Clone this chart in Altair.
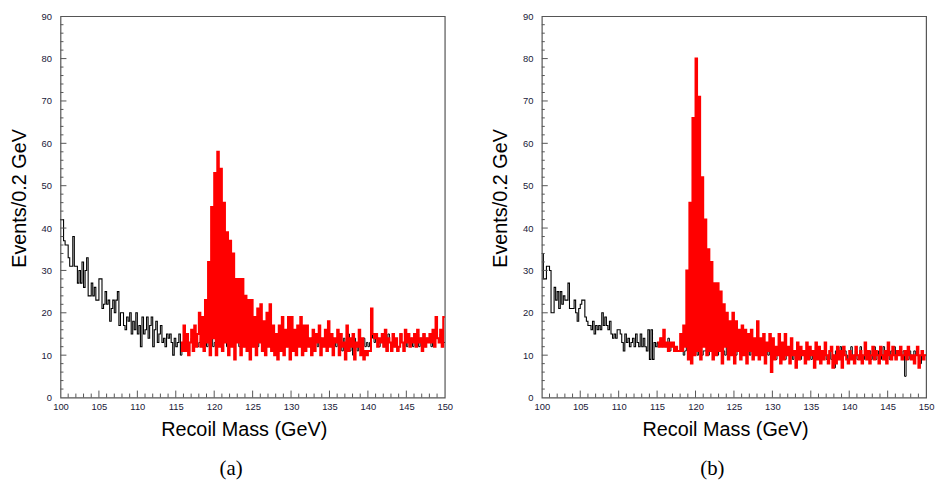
import altair as alt
import pandas as pd

# ---------------- data (Events / 0.2 GeV, bins starting at 100.0 GeV) ----------------
X_START = 100.0
BIN = 0.2

# panel (a): background (black), 250 bins 100.0 ... 149.8
bkg_a = [
    42, 42, 37, 36, 36, 33, 31, 31, 38, 31,
    31, 27, 30, 27, 32, 26, 30, 33, 24, 24,
    27, 24, 26, 23, 23, 28, 28, 21, 22, 25,
    22, 23, 18, 21, 23, 20, 23, 25, 17, 20,
    20, 17, 16, 19, 18, 20, 15, 18, 16, 20,
    15, 17, 12, 19, 15, 16, 19, 14, 17, 19,
    12, 16, 18, 13, 15, 17, 13, 14, 12, 15,
    14, 15, 13, 10, 14, 12, 13, 15, 10, 13,
    14, 12, 15, 11, 13, 14, 12, 14, 13, 12,
    13, 14, 12, 15, 13, 12, 14, 13, 15, 12,
    13, 12, 14, 13, 12, 15, 13, 14, 12, 13,
    14, 13, 12, 14, 13, 15, 12, 13, 14, 12,
    13, 14, 12, 13, 15, 12, 14, 13, 12, 14,
    13, 12, 14, 13, 12, 14, 13, 15, 12, 13,
    14, 12, 13, 15, 12, 13, 14, 12, 13, 14,
    12, 14, 13, 12, 15, 13, 12, 14, 13, 12,
    14, 13, 12, 14, 12, 13, 15, 12, 13, 14,
    12, 13, 14, 12, 15, 13, 12, 14, 13, 12,
    14, 12, 13, 11, 14, 13, 12, 15, 11, 13,
    10, 14, 12, 11, 15, 13, 10, 14, 12, 13,
    12, 13, 21, 14, 13, 15, 14, 12, 13, 15,
    12, 14, 11, 15, 13, 11, 14, 12, 13, 11,
    12, 15, 13, 12, 14, 12, 15, 13, 14, 12,
    14, 13, 15, 12, 14, 13, 15, 12, 14, 13,
    14, 12, 15, 13, 18, 14, 13, 15, 12, 13,
]
# panel (a): signal + background (red), bins 113.0 ... 149.8 (below 113 it equals bkg_a)
total_a_tail = [
    13, 15, 12, 15, 13,
    15, 12, 15, 10, 14, 12, 16, 10, 13, 11,
    17, 11, 15, 10, 13, 16, 11, 17, 12, 15,
    20, 12, 19, 11, 23, 13, 32, 10, 45, 14,
    53, 10, 58, 12, 54, 11, 46, 13, 39, 10,
    37, 12, 34, 9, 28, 13, 28, 10, 28, 12,
    24, 11, 23, 9, 23, 12, 19, 10, 21, 13,
    22, 11, 18, 10, 20, 12, 22, 11, 17, 10,
    15, 9, 17, 11, 19, 10, 16, 12, 19, 9,
    19, 11, 16, 10, 17, 12, 19, 10, 17, 11,
    17, 12, 14, 10, 16, 11, 15, 13, 17, 10,
    14, 12, 16, 11, 18, 12, 15, 10, 14, 13,
    16, 10, 15, 12, 13, 9, 17, 11, 14, 12,
    15, 9, 13, 12, 16, 10, 14, 9, 11, 10,
    11, 11, 21, 15, 14, 15, 12, 14, 13, 15,
    12, 16, 11, 14, 13, 11, 15, 12, 14, 11,
    12, 15, 13, 11, 16, 13, 15, 12, 14, 13,
    15, 12, 16, 13, 14, 11, 15, 12, 14, 13,
    15, 13, 16, 12, 19, 14, 13, 16, 12, 19,
]

# panel (b): background (black), 250 bins
bkg_b = [
    34, 28, 28, 31, 31, 30, 20, 20, 26, 23,
    25, 21, 25, 22, 24, 23, 23, 27, 21, 21,
    21, 23, 20, 18, 21, 22, 23, 23, 19, 18,
    17, 17, 16, 18, 15, 17, 16, 17, 16, 20,
    17, 19, 17, 16, 18, 15, 14, 15, 14, 16,
    16, 15, 13, 11, 15, 13, 14, 12, 13, 14,
    12, 15, 13, 12, 15, 12, 14, 12, 11, 16,
    9, 16, 9, 13, 12, 13, 12, 14, 12, 13,
    12, 12, 14, 11, 12, 12, 11, 12, 11, 11,
    11, 12, 10, 11, 12, 10, 11, 12, 10, 11,
    12, 10, 11, 12, 10, 11, 11, 12, 10, 11,
    11, 10, 12, 11, 10, 11, 12, 10, 11, 10,
    12, 10, 11, 10, 12, 11, 10, 11, 12, 10,
    11, 10, 12, 10, 11, 10, 12, 11, 10, 11,
    10, 11, 12, 10, 11, 9, 11, 10, 12, 10,
    11, 10, 9, 12, 10, 11, 10, 12, 9, 11,
    10, 12, 11, 9, 10, 11, 12, 10, 9, 11,
    10, 11, 9, 12, 10, 9, 11, 10, 12, 9,
    10, 11, 9, 10, 12, 9, 10, 11, 9, 10,
    7, 11, 9, 10, 12, 9, 10, 11, 10, 9,
    10, 12, 9, 10, 11, 9, 10, 12, 10, 9,
    11, 9, 10, 11, 9, 10, 12, 9, 10, 11,
    9, 10, 12, 9, 11, 10, 9, 11, 10, 12,
    9, 10, 11, 10, 9, 11, 5, 10, 9, 11,
    10, 9, 11, 10, 12, 9, 8, 11, 10, 10,
]
# panel (b): signal + background (red), bins 115.0 ... 149.8
total_b_tail = [
    13, 12, 14, 12, 16,
    12, 13, 11, 13, 12, 13, 11, 12, 11, 11,
    15, 11, 17, 12, 30, 9, 46, 8, 66, 10,
    80, 11, 71, 9, 52, 12, 42, 10, 35, 11,
    32, 9, 27, 10, 27, 11, 25, 8, 22, 12,
    20, 9, 18, 10, 20, 8, 18, 11, 16, 9,
    17, 10, 16, 8, 15, 11, 16, 9, 14, 10,
    18, 9, 14, 10, 15, 8, 13, 11, 15, 6,
    14, 9, 12, 10, 15, 8, 13, 9, 15, 10,
    12, 8, 14, 10, 11, 7, 13, 9, 12, 10,
    11, 8, 13, 9, 12, 10, 11, 7, 13, 9,
    12, 8, 11, 9, 13, 10, 8, 11, 12, 7,
    10, 8, 12, 9, 11, 7, 12, 10, 9, 8,
    11, 9, 10, 8, 12, 10, 9, 11, 8, 10,
    13, 9, 11, 8, 10, 12, 9, 11, 10, 8,
    12, 10, 9, 11, 8, 13, 10, 9, 12, 10,
    9, 11, 10, 12, 9, 10, 11, 9, 12, 10,
    9, 10, 8, 10, 12, 7, 10, 11, 9, 10,
]

x_major = [100, 105, 110, 115, 120, 125, 130, 135, 140, 145, 150]
x_minor = [v for v in range(101, 150) if v % 5 != 0]
y_major = [0, 10, 20, 30, 40, 50, 60, 70, 80, 90]
y_minor = [v for v in range(2, 90, 2) if v % 10 != 0]

SANS = "Liberation Sans"
SERIF = "Liberation Serif"
LABEL_COLOR = "#202038"
FRAME = "#555555"


def panel(bkg, tail, split, w, h, caption):
    n = len(bkg)
    k = n - len(tail)
    total = bkg[:k] + tail
    edges = [round(X_START + BIN * i, 1) for i in range(n + 1)]
    df = pd.DataFrame({"x": edges, "bkg": bkg + [bkg[-1]], "total": total + [total[-1]]})

    def X(field):
        return alt.X(
            f"{field}:Q",
            scale=alt.Scale(domain=[100, 150], nice=False, zero=False),
            axis=alt.Axis(
                values=x_major, format="d", ticks=False, tickSize=0, domain=False, grid=False,
                labelFlush=False, labelOverlap=False,
                labelFont=SANS, labelFontSize=9.5, labelColor=LABEL_COLOR, labelPadding=4,
                title="Recoil Mass (GeV)", titleFont=SANS, titleFontSize=20,
                titleFontWeight="normal", titleColor="black", titlePadding=9,
                titleX=w / 2 - 9,
            ),
        )

    def Y(field):
        return alt.Y(
            f"{field}:Q",
            scale=alt.Scale(domain=[0, 90], nice=False, zero=True),
            axis=alt.Axis(
                values=y_major, format="d", ticks=False, tickSize=0, domain=False, grid=False,
                labelFlush=False, labelOverlap=False,
                labelFont=SANS, labelFontSize=9.5, labelColor=LABEL_COLOR, labelPadding=9,
                title="Events/0.2 GeV", titleFont=SANS, titleFontSize=20,
                titleFontWeight="normal", titleColor="black", titlePadding=12,
                titleY=h / 2 - 9,
            ),
        )

    base = alt.Chart(df)
    black_right = base.mark_line(interpolate="step-after", color="black", strokeWidth=1).encode(
        x=X("x"), y=Y("bkg")).transform_filter(alt.datum.x >= split)
    red = base.mark_line(interpolate="step-after", color="#ff0000", strokeWidth=2).encode(
        x=X("x"), y=Y("total")).transform_filter(alt.datum.x >= split)
    black_left = base.mark_line(interpolate="step-after", color="black", strokeWidth=1.1).encode(
        x=X("x"), y=Y("bkg")).transform_filter(alt.datum.x <= split)

    xt_major = alt.Chart(pd.DataFrame({"x": x_major[1:-1]})).mark_rule(color=FRAME, strokeWidth=1).encode(
        x=X("x"), y=alt.value(h), y2=alt.value(h - 7))
    xt_minor = alt.Chart(pd.DataFrame({"x": x_minor})).mark_rule(color=FRAME, strokeWidth=1).encode(
        x=X("x"), y=alt.value(h), y2=alt.value(h - 4))
    yt_major = alt.Chart(pd.DataFrame({"y": y_major[1:-1]})).mark_rule(color=FRAME, strokeWidth=1).encode(
        y=Y("y"), x=alt.value(0), x2=alt.value(6))
    yt_minor = alt.Chart(pd.DataFrame({"y": y_minor})).mark_rule(color=FRAME, strokeWidth=1).encode(
        y=Y("y"), x=alt.value(0), x2=alt.value(3))

    return alt.layer(black_right, red, black_left, xt_major, xt_minor, yt_major, yt_minor).properties(
        width=w, height=h,
        title=alt.TitleParams(caption, orient="bottom", font=SERIF, fontSize=21,
                              fontWeight="normal", color="black", offset=19,
                              anchor="middle", frame="bounds"),
    )


pa = panel(bkg_a, total_a_tail, 115.6, 388, 385, "(a)")
pb = panel(bkg_b, total_b_tail, 115.0, 388, 385, "(b)")

chart = (
    alt.hconcat(pa, pb, spacing=36)
    .properties(padding=0)
    .configure_view(stroke=FRAME, strokeWidth=1.2)
)

chart.save("out.html", embed_options={"renderer": "svg", "actions": False})
